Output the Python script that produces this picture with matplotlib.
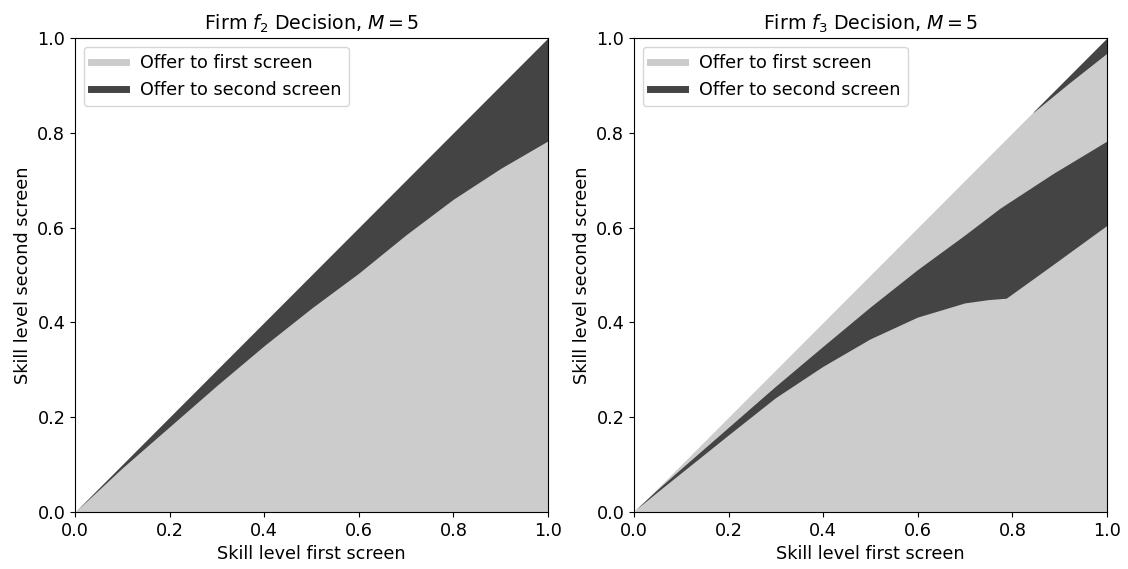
import numpy as np
import matplotlib.pyplot as plt
from matplotlib.lines import Line2D

# boundary curves (x = skill first screen, y = skill second screen)
f2_x = [0.0, 0.1, 0.2, 0.3, 0.4, 0.5, 0.6, 0.7, 0.8, 0.9, 1.0]
f2_lower = [0.0, 0.093, 0.180, 0.267, 0.351, 0.430, 0.504, 0.585, 0.660, 0.725, 0.783]

f3_upper_x = [0.0, 0.05, 0.1, 0.2, 0.3, 0.4, 0.5, 0.6, 0.7, 0.775, 0.887, 1.0]
f3_upper = [0.0, 0.046, 0.090, 0.177, 0.264, 0.348, 0.431, 0.510, 0.583, 0.640, 0.713, 0.781]
f3_lower_x = [0.0, 0.05, 0.1, 0.2, 0.3, 0.4, 0.5, 0.6, 0.7, 0.75, 0.788, 0.880, 1.0]
f3_lower = [0.0, 0.041, 0.081, 0.161, 0.240, 0.306, 0.364, 0.410, 0.440, 0.447, 0.450, 0.516, 0.603]
f3_top_x = [0.844, 0.92, 1.0]
f3_top = [0.843, 0.905, 0.968]

LIGHT = '#cccccc'
DARK = '#444444'
FS = 12.7

fig = plt.figure(figsize=(11.28, 5.69), dpi=100)
ax1 = fig.add_axes([75 / 1128, 57 / 569, 473 / 1128, 474 / 569])
ax2 = fig.add_axes([634 / 1128, 57 / 569, 473 / 1128, 474 / 569])

diag = np.array([0.0, 1.0])

# left: firm f2
ax1.fill_between(diag, 0, diag, color=LIGHT, lw=0)
x = np.array(f2_x)
ax1.fill_between(x, f2_lower, x, color=DARK, lw=0)

# right: firm f3
ax2.fill_between(diag, 0, diag, color=LIGHT, lw=0)
ax2.fill(np.r_[f3_upper_x, f3_lower_x[::-1]], np.r_[f3_upper, f3_lower[::-1]],
         color=DARK, lw=0)
tx = np.array(f3_top_x)
ax2.fill_between(tx, f3_top, tx, color=DARK, lw=0)

handles = [Line2D([], [], color=LIGHT, lw=5), Line2D([], [], color=DARK, lw=5)]
labels = ['Offer to first screen', 'Offer to second screen']

for ax, name in [(ax1, r'Firm $f_2$ Decision, $M = 5$'), (ax2, r'Firm $f_3$ Decision, $M = 5$')]:
    ax.set_xlim(0, 1)
    ax.set_ylim(0, 1)
    ax.set_title(name, fontsize=13.7)
    ax.set_xlabel('Skill level first screen', fontsize=FS)
    ax.set_ylabel('Skill level second screen', fontsize=FS)
    ax.tick_params(labelsize=FS)
    ax.legend(handles, labels, loc='upper left', fontsize=FS)

fig.savefig('out.png')
